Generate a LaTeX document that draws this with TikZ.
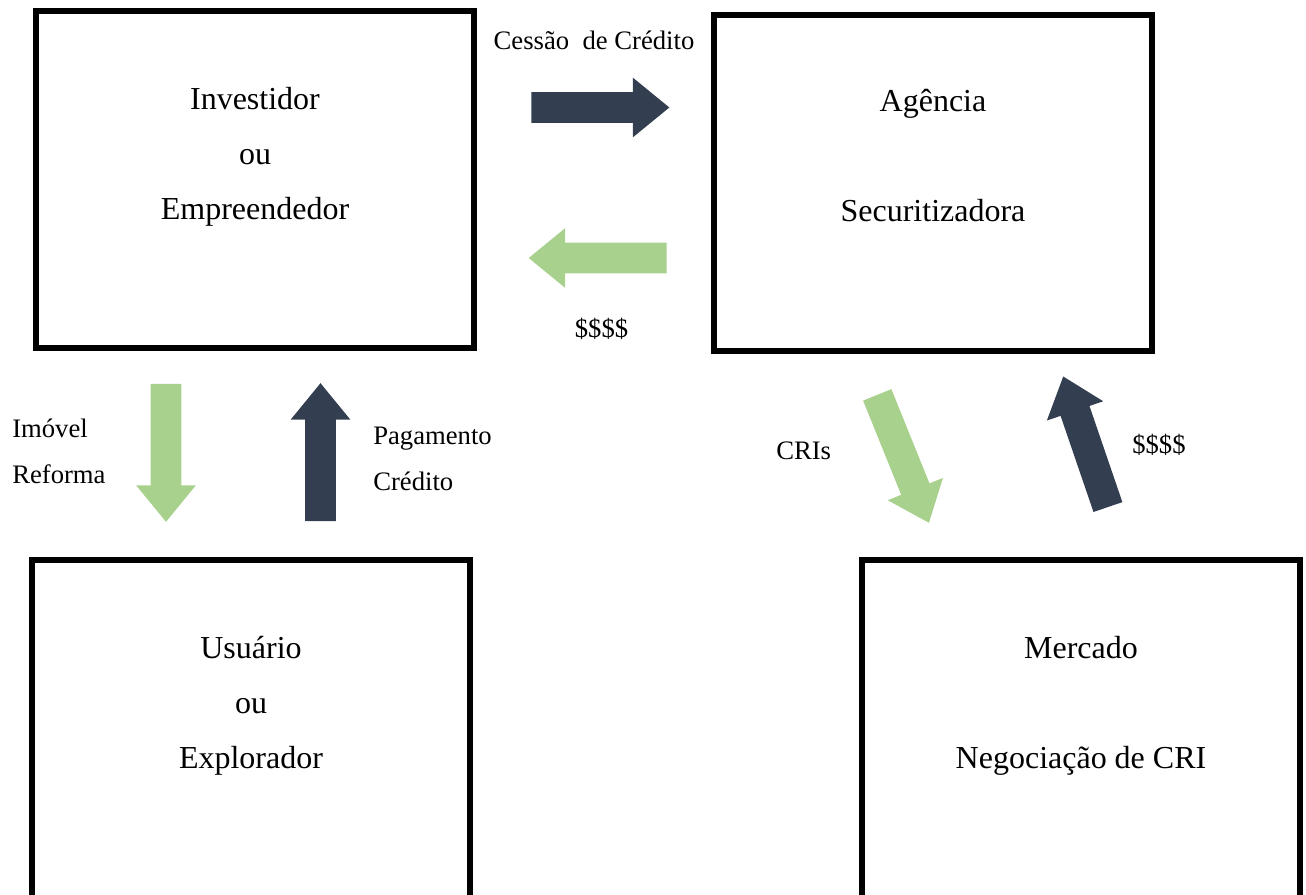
\documentclass[tikz,border=0pt]{standalone}
\usepackage{fontspec}
\setmainfont{Liberation Serif}
\usepackage{tikz}
\definecolor{setaescura}{RGB}{51, 63, 80}
\definecolor{setaverde}{RGB}{169, 209, 142}
\usetikzlibrary{shapes.arrows}

\begin{document}
\begin{tikzpicture}[x=0.75pt, y=-0.75pt,
				caixa/.style={draw, line width=4.5pt, rectangle, inner sep=0pt, outer sep=0pt, minimum width=328.5pt, minimum height=#1},
				seta/.style={single arrow, fill=#1, draw=none, inner xsep=0pt, inner ysep=11.25pt, outer sep=0pt,
					minimum height=103.5pt, single arrow head extend=10.875pt, single arrow tip angle=78.6},
				texto/.style={font=\fontsize{24}{41.25}\selectfont, inner sep=0pt, anchor=base},
				rotulo/.style={font=\fontsize{20}{34.9}\selectfont, inner sep=0pt, anchor=base west}]
				%Bildbereich
				\useasboundingbox (0,0) rectangle (1306,895);
				\clip (0,0) rectangle (1306,895);
				% Kaesten
				\node[caixa=252.75pt] (investidor) at (255,179.5) {};
				\node[caixa=252pt] (agencia) at (933,183) {};
				\node[caixa=253.5pt] (usuario) at (251,729) {};
				\node[caixa=253.5pt] (mercado) at (1081,729) {};
				% Texte in den Kaesten
				\node[texto] (txtinvestidor) at (255,110) {\begin{tabular}[t]{c}Investidor\\ou\\Empreendedor\end{tabular}};
				\node[texto] (txtagencia) at (933,112) {\begin{tabular}[t]{c}Agência\\ \\Securitizadora\end{tabular}};
				\node[texto] (txtusuario) at (251,658) {\begin{tabular}[t]{c}Usuário\\ou\\Explorador\end{tabular}};
				\node[texto] (txtmercado) at (1081,658) {\begin{tabular}[t]{c}Mercado\\ \\Negociação de CRI\end{tabular}};
				% Pfeile
				\node[seta=setaescura] (setacessao) at (591,107.5) {};
				\node[seta=setaverde, rotate=180] (setadinheiro) at (607,258) {};
				\node[seta=setaverde, rotate=-90] (setaimovel) at (166,443.5) {};
				\node[seta=setaescura, rotate=90] (setapagamento) at (320.5,461.5) {};
				\node[seta=setaverde, rotate=-68] (setacri) at (899.6,450.2) {};
				\node[seta=setaescura, rotate=108.9] (setamercado) at (1088.6,450.6) {};
				%Beschriftung
				\node[rotulo, anchor=base] (lblcessao) at (594,50) {Cessão\ \ de Crédito};
				\node[rotulo, anchor=base] (lbldinheiro) at (601.5,337) {\$\$\$\$};
				\node[rotulo] (lblimovel) at (12,437) {\begin{tabular}[t]{@{}l@{}}Imóvel\\Reforma\end{tabular}};
				\node[rotulo] (lblpagamento) at (373,444) {\begin{tabular}[t]{@{}l@{}}Pagamento\\Crédito\end{tabular}};
				\node[rotulo] (lblcri) at (776,459) {CRIs};
				\node[rotulo] (lblmercado) at (1132,453) {\$\$\$\$};
			\end{tikzpicture}
\end{document}
